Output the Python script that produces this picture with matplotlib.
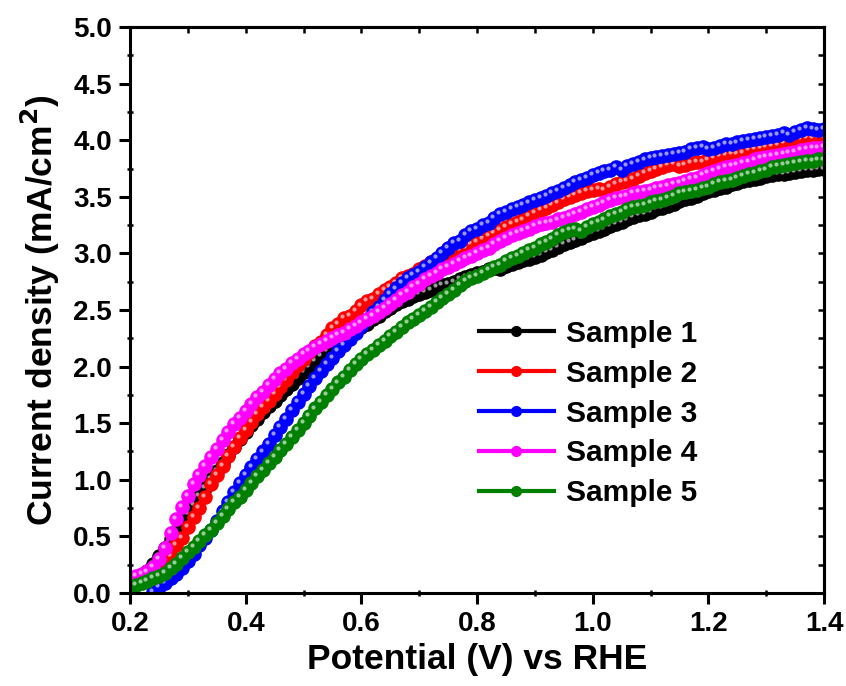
import numpy as np
import matplotlib
matplotlib.use("Agg")
import matplotlib.pyplot as plt
from matplotlib import transforms
from matplotlib.lines import Line2D
from matplotlib.ticker import MultipleLocator

# -----------------------------
# Data (0.01 V steps)
# -----------------------------
potential = np.round(np.arange(0.20, 1.405, 0.01), 2)

sample1 = [
    0.10, 0.12, 0.15, 0.19, 0.26, 0.33, 0.40, 0.48, 0.55, 0.63,
    0.70, 0.78, 0.86, 0.93, 1.01, 1.08, 1.15, 1.22, 1.29, 1.36,
    1.42, 1.48, 1.54, 1.60, 1.65, 1.70, 1.75, 1.80, 1.85, 1.90,
    1.95, 2.00, 2.05, 2.09, 2.14, 2.18, 2.22, 2.26, 2.29, 2.32,
    2.35, 2.38, 2.42, 2.45, 2.49, 2.52, 2.55, 2.58, 2.60, 2.62,
    2.64, 2.66, 2.68, 2.70, 2.72, 2.73, 2.75, 2.77, 2.79, 2.81,
    2.83, 2.84, 2.86, 2.87, 2.86, 2.89, 2.91, 2.92, 2.94, 2.95,
    2.97, 2.99, 3.01, 3.03, 3.06, 3.08, 3.10, 3.12, 3.14, 3.16,
    3.18, 3.20, 3.22, 3.24, 3.26, 3.28, 3.30, 3.32, 3.34, 3.35,
    3.37, 3.39, 3.40, 3.42, 3.44, 3.46, 3.48, 3.49, 3.51, 3.53,
    3.55, 3.56, 3.58, 3.59, 3.61, 3.62, 3.64, 3.65, 3.66, 3.67,
    3.68, 3.69, 3.70, 3.70, 3.71, 3.72, 3.73, 3.74, 3.74, 3.75,
    3.75,
]
sample2 = [
    0.12, 0.14, 0.16, 0.18, 0.20, 0.23, 0.27, 0.33, 0.42, 0.49,
    0.58, 0.67, 0.75, 0.85, 0.96, 1.04, 1.12, 1.21, 1.29, 1.37,
    1.44, 1.51, 1.58, 1.64, 1.70, 1.76, 1.82, 1.88, 1.95, 2.01,
    2.07, 2.13, 2.18, 2.22, 2.28, 2.34, 2.38, 2.43, 2.45, 2.49,
    2.54, 2.58, 2.60, 2.64, 2.68, 2.70, 2.74, 2.78, 2.80, 2.82,
    2.86, 2.89, 2.92, 2.95, 2.97, 2.98, 3.01, 3.03, 3.05, 3.08,
    3.10, 3.13, 3.15, 3.18, 3.21, 3.23, 3.26, 3.28, 3.30, 3.33,
    3.36, 3.38, 3.40, 3.43, 3.45, 3.48, 3.50, 3.52, 3.53, 3.55,
    3.56, 3.57, 3.56, 3.59, 3.61, 3.63, 3.64, 3.66, 3.68, 3.71,
    3.73, 3.75, 3.76, 3.78, 3.79, 3.77, 3.78, 3.80, 3.81, 3.81,
    3.83, 3.84, 3.86, 3.87, 3.88, 3.88, 3.89, 3.91, 3.92, 3.93,
    3.94, 3.95, 3.96, 3.98, 3.99, 4.00, 4.01, 4.02, 4.02, 4.03,
    4.03,
]
sample3 = [
    -0.20, -0.16, -0.12, -0.06, 0.01, 0.05, 0.09, 0.13, 0.17, 0.22,
    0.28, 0.34, 0.42, 0.49, 0.56, 0.64, 0.72, 0.80, 0.89, 0.97,
    1.04, 1.11, 1.18, 1.25, 1.32, 1.40, 1.47, 1.54, 1.62, 1.69,
    1.76, 1.83, 1.90, 1.96, 2.02, 2.08, 2.14, 2.19, 2.24, 2.30,
    2.36, 2.42, 2.48, 2.53, 2.59, 2.64, 2.69, 2.74, 2.78, 2.81,
    2.84, 2.88, 2.92, 2.96, 3.00, 3.05, 3.09, 3.11, 3.16, 3.20,
    3.22, 3.25, 3.27, 3.31, 3.35, 3.37, 3.39, 3.41, 3.43, 3.45,
    3.47, 3.49, 3.51, 3.53, 3.55, 3.58, 3.60, 3.63, 3.65, 3.67,
    3.69, 3.71, 3.73, 3.74, 3.76, 3.74, 3.77, 3.79, 3.81, 3.83,
    3.84, 3.85, 3.86, 3.87, 3.88, 3.89, 3.90, 3.92, 3.93, 3.94,
    3.92, 3.93, 3.95, 3.97, 3.97, 3.98, 3.99, 4.00, 4.01, 4.02,
    4.03, 4.04, 4.05, 4.06, 4.05, 4.07, 4.09, 4.11, 4.10, 4.09,
    4.10,
]
sample4 = [
    0.13, 0.15, 0.17, 0.19, 0.23, 0.30, 0.40, 0.53, 0.65, 0.76,
    0.86, 0.96, 1.04, 1.12, 1.20, 1.27, 1.35, 1.42, 1.49, 1.55,
    1.61, 1.67, 1.73, 1.78, 1.84, 1.89, 1.94, 1.98, 2.03, 2.07,
    2.11, 2.14, 2.17, 2.20, 2.23, 2.25, 2.28, 2.30, 2.33, 2.36,
    2.39, 2.42, 2.45, 2.48, 2.52, 2.55, 2.59, 2.63, 2.66, 2.70,
    2.73, 2.77, 2.80, 2.83, 2.86, 2.88, 2.91, 2.93, 2.96, 2.98,
    3.00, 3.03, 3.05, 3.08, 3.11, 3.14, 3.16, 3.18, 3.20, 3.22,
    3.24, 3.26, 3.27, 3.28, 3.30, 3.31, 3.33, 3.35, 3.37, 3.39,
    3.41, 3.43, 3.45, 3.47, 3.49, 3.50, 3.51, 3.53, 3.54, 3.55,
    3.56, 3.58, 3.59, 3.60, 3.61, 3.62, 3.64, 3.66, 3.67, 3.69,
    3.71, 3.73, 3.75, 3.76, 3.77, 3.78, 3.80, 3.81, 3.83, 3.84,
    3.85, 3.86, 3.87, 3.88, 3.89, 3.90, 3.91, 3.92, 3.93, 3.93,
    3.94,
]
sample5 = [
    0.05, 0.07, 0.09, 0.11, 0.13, 0.15, 0.18, 0.22, 0.26, 0.31,
    0.36, 0.41, 0.46, 0.51, 0.56, 0.62, 0.68, 0.74, 0.80, 0.85,
    0.91, 0.97, 1.03, 1.09, 1.15, 1.20, 1.26, 1.32, 1.38, 1.44,
    1.50, 1.56, 1.63, 1.69, 1.75, 1.80, 1.86, 1.91, 1.97, 2.02,
    2.07, 2.11, 2.15, 2.19, 2.23, 2.27, 2.31, 2.35, 2.39, 2.42,
    2.46, 2.49, 2.53, 2.57, 2.61, 2.64, 2.68, 2.72, 2.76, 2.78,
    2.80, 2.83, 2.85, 2.88, 2.90, 2.93, 2.96, 2.98, 3.00, 3.03,
    3.05, 3.08, 3.10, 3.13, 3.16, 3.19, 3.21, 3.22, 3.20, 3.23,
    3.26, 3.28, 3.30, 3.33, 3.35, 3.37, 3.39, 3.41, 3.42, 3.43,
    3.45, 3.46, 3.47, 3.49, 3.51, 3.53, 3.54, 3.55, 3.56, 3.58,
    3.59, 3.61, 3.63, 3.64, 3.65, 3.67, 3.68, 3.70, 3.71, 3.73,
    3.74, 3.76, 3.77, 3.78, 3.79, 3.80, 3.81, 3.82, 3.82, 3.83,
    3.83,
]

labels = ["Sample 1", "Sample 2", "Sample 3", "Sample 4", "Sample 5"]
colors = ["black", "red", "blue", "magenta", "green"]
series = [sample1, sample2, sample3, sample4, sample5]

# -----------------------------
# Style
# -----------------------------
plt.rcParams["font.family"] = ["Liberation Sans", "DejaVu Sans"]
plt.rcParams["font.weight"] = "bold"
plt.rcParams["mathtext.default"] = "bf"

fig = plt.figure(figsize=(8.46, 6.86), dpi=100)
ax = fig.add_axes([0.1537, 0.1356, 0.8204, 0.825])

# small white dot shifted up-left gives the "shiny ball" look
shine = transforms.offset_copy(ax.transData, fig=fig, x=-1.4, y=1.4, units="points")

for y, c, lab in zip(series, colors, labels):
    ax.plot(potential, y, "-", color=c, lw=2.5, marker="o", ms=9.5,
            mec=c, mfc=c)
    ax.plot(potential, y, "o", color="white", ms=3.0, alpha=0.6,
            mec="none", transform=shine)

ax.set_xlim(0.2, 1.4)
ax.set_ylim(0, 5.0)
ax.xaxis.set_major_locator(MultipleLocator(0.2))
ax.xaxis.set_minor_locator(MultipleLocator(0.1))
ax.yaxis.set_major_locator(MultipleLocator(0.5))
ax.yaxis.set_minor_locator(MultipleLocator(0.25))

for s in ax.spines.values():
    s.set_linewidth(2.2)

ax.tick_params(which="major", direction="out", length=8, width=2.2,
               labelsize=20, pad=5)
ax.tick_params(which="minor", direction="inout", length=5, width=1.8)

# ticks on top/right spines pointing inwards
sec_x = ax.secondary_xaxis("top")
sec_x.xaxis.set_major_locator(MultipleLocator(0.2))
sec_x.xaxis.set_minor_locator(MultipleLocator(0.1))
sec_x.tick_params(which="both", direction="in", length=4, width=1.8, labeltop=False)
sec_y = ax.secondary_yaxis("right")
sec_y.yaxis.set_major_locator(MultipleLocator(0.5))
sec_y.yaxis.set_minor_locator(MultipleLocator(0.25))
sec_y.tick_params(which="both", direction="in", length=4, width=1.8, labelright=False)
sec_x.spines["top"].set_linewidth(2.2)
sec_y.spines["right"].set_linewidth(2.2)

for t in ax.get_xticklabels() + ax.get_yticklabels():
    t.set_fontweight("bold")

ax.set_xlabel("Potential (V) vs RHE", fontsize=25.5, fontweight="bold", labelpad=4)
ax.set_ylabel("Current density (mA/cm$^2$)", fontsize=25.5, fontweight="bold", labelpad=8)

# legend handles: thicker line, smaller ball than in the plot
handles = [Line2D([], [], color=c, lw=3, marker="o", ms=7, mec=c, mfc=c)
           for c in colors]
leg = ax.legend(handles, labels, loc="upper left", bbox_to_anchor=(0.503, 0.483),
                frameon=False, handlelength=2.5, handletextpad=0.4,
                borderpad=0, borderaxespad=0, labelspacing=0.4,
                prop={"weight": "bold", "size": 21.5})

fig.savefig("out.png", dpi=100)
